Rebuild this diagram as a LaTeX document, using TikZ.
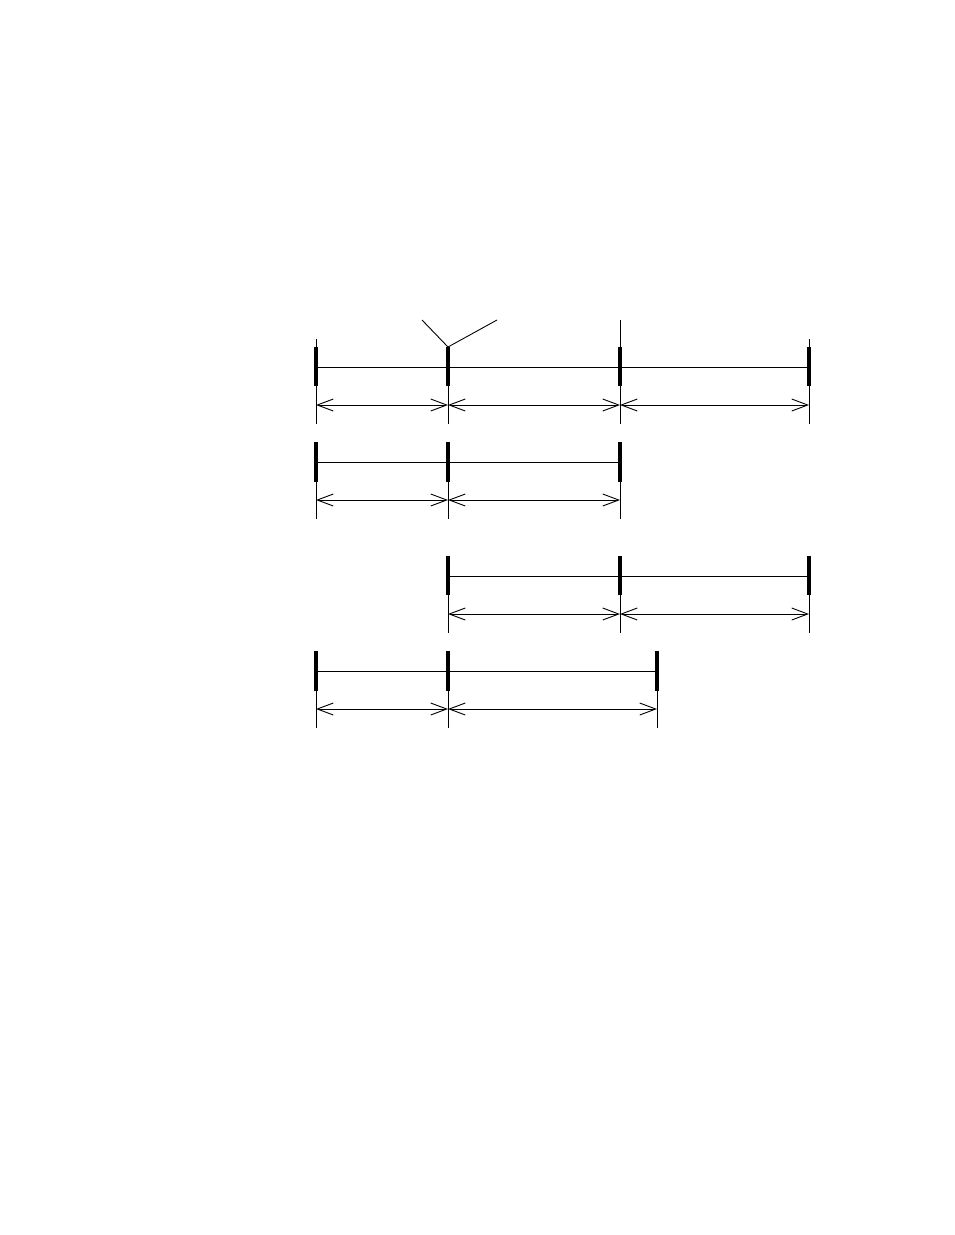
\documentclass[tikz,border=0pt]{standalone}
\usetikzlibrary{arrows.meta}
\begin{document}
\begin{tikzpicture}[x=1pt,y=-1pt,
  thinline/.style={line width=0.9pt},
  thickline/.style={line width=3.2pt},
  barb/.tip={Straight Barb[length=16pt,width=12pt]},
  dim/.style={line width=0.9pt,barb-barb}]
\useasboundingbox (0,0) rectangle (954,1235);
% ---- coordinates ----
\foreach \n/\x in {A/316,B/448,C/620,D/809}{
  \coordinate (r1\n top) at (\x,347);
  \coordinate (r1\n bot) at (\x,386);
  \coordinate (r1\n mid) at (\x,367);
  \coordinate (r1\n dim) at (\x,405);
  \coordinate (r1\n end) at (\x,424);
}
\foreach \n/\x in {A/316,B/448,C/620}{
  \coordinate (r2\n top) at (\x,442);
  \coordinate (r2\n bot) at (\x,482);
  \coordinate (r2\n mid) at (\x,462);
  \coordinate (r2\n dim) at (\x,500);
  \coordinate (r2\n end) at (\x,519);
}
\foreach \n/\x in {B/448,C/620,D/809}{
  \coordinate (r3\n top) at (\x,556);
  \coordinate (r3\n bot) at (\x,595);
  \coordinate (r3\n mid) at (\x,576);
  \coordinate (r3\n dim) at (\x,614);
  \coordinate (r3\n end) at (\x,633);
}
\foreach \n/\x in {A/316,B/448,E/657}{
  \coordinate (r4\n top) at (\x,651);
  \coordinate (r4\n bot) at (\x,691);
  \coordinate (r4\n mid) at (\x,671);
  \coordinate (r4\n dim) at (\x,709);
  \coordinate (r4\n end) at (\x,728);
}
\coordinate (r1Aext) at (316,339);
\coordinate (r1Dext) at (809,339);
\coordinate (r1Cext) at (620,320);
\coordinate (yL) at (422,320);
\coordinate (yR) at (497,320);
% ---- row 1 ----
\foreach \n in {A,B,C,D}{
  \draw[thickline] (r1\n top) -- (r1\n bot);
  \draw[thinline] (r1\n bot) -- (r1\n end);
}
\draw[thinline] (r1Aext) -- (r1Atop);
\draw[thinline] (r1Dext) -- (r1Dtop);
\draw[thinline] (r1Cext) -- (r1Ctop);
\draw[thinline] (yL) -- (r1Btop) -- (yR);
\draw[thinline] (r1Amid) -- (r1Dmid);
\draw[dim] (r1Adim) -- (r1Bdim);
\draw[dim] (r1Bdim) -- (r1Cdim);
\draw[dim] (r1Cdim) -- (r1Ddim);
% ---- row 2 ----
\foreach \n in {A,B,C}{
  \draw[thickline] (r2\n top) -- (r2\n bot);
  \draw[thinline] (r2\n bot) -- (r2\n end);
}
\draw[thinline] (r2Amid) -- (r2Cmid);
\draw[dim] (r2Adim) -- (r2Bdim);
\draw[dim] (r2Bdim) -- (r2Cdim);
% ---- row 3 ----
\foreach \n in {B,C,D}{
  \draw[thickline] (r3\n top) -- (r3\n bot);
  \draw[thinline] (r3\n bot) -- (r3\n end);
}
\draw[thinline] (r3Bmid) -- (r3Dmid);
\draw[dim] (r3Bdim) -- (r3Cdim);
\draw[dim] (r3Cdim) -- (r3Ddim);
% ---- row 4 ----
\foreach \n in {A,B,E}{
  \draw[thickline] (r4\n top) -- (r4\n bot);
  \draw[thinline] (r4\n bot) -- (r4\n end);
}
\draw[thinline] (r4Amid) -- (r4Emid);
\draw[dim] (r4Adim) -- (r4Bdim);
\draw[dim] (r4Bdim) -- (r4Edim);
\end{tikzpicture}
\end{document}
